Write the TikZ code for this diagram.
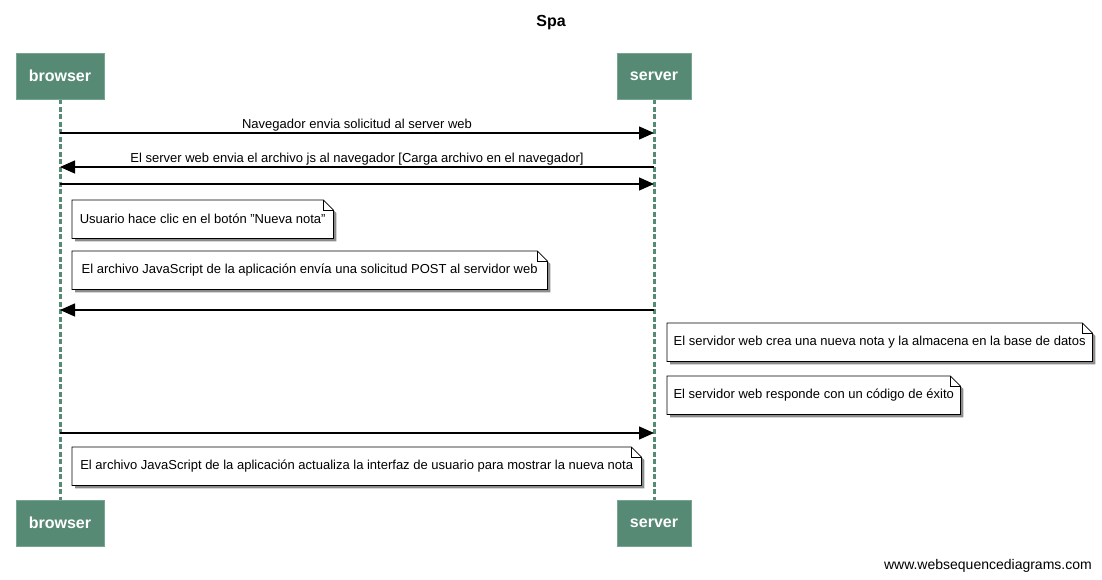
\documentclass[tikz,border=0pt]{standalone}
\usepackage{fontspec}
\setmainfont{Liberation Sans}
\usetikzlibrary{arrows.meta,backgrounds}
\definecolor{actorgreen}{RGB}{87,138,117}
\definecolor{actorborder}{RGB}{120,165,145}
\tikzset{
  actor/.style={draw=actorborder, line width=0.8pt, fill=actorgreen, text=white,
    font=\bfseries\fontsize{16}{18}\selectfont, minimum height=46pt, inner sep=0pt},
  lifeline/.style={draw=actorgreen, line width=3pt, dash pattern=on 5pt off 2.5pt},
  msg/.style={draw=black, line width=1.4pt, -{Triangle[length=15pt,width=13pt]}},
  msglabel/.style={font=\fontsize{13}{15}\selectfont, above=0pt, inner sep=1pt, midway},
  notetext/.style={font=\fontsize{13}{15}\selectfont, anchor=north west, inner sep=0pt,
    minimum height=38pt},
  notebg/.style={fill=white, draw=black, line width=0.8pt},
  noteshadow/.style={fill=black!45},
}
\begin{document}
\begin{tikzpicture}[x=1pt,y=-1pt]
\useasboundingbox (0,0) rectangle (1102,580);
% title
\node[font=\bfseries\fontsize{16}{18}\selectfont] (title) at (551,23) {Spa};
% actors
\node[actor, minimum width=88pt] (bt) at (60,76) {browser};
\node[actor, minimum width=74pt] (st) at (654,76) {server};
\node[actor, minimum width=88pt] (bb) at (60,523) {browser};
\node[actor, minimum width=74pt] (sb) at (654,523) {server};
% lifelines
\begin{scope}[on background layer]
\draw[lifeline] (bt.south) -- (bb.north);
\draw[lifeline] (st.south) -- (sb.north);
\end{scope}
% message coordinates
\coordinate (b1) at (60,133); \coordinate (s1) at (654,133);
\coordinate (b2) at (60,167); \coordinate (s2) at (654,167);
\coordinate (b3) at (60,184); \coordinate (s3) at (654,184);
\coordinate (b4) at (60,310); \coordinate (s4) at (654,310);
\coordinate (b5) at (60,433); \coordinate (s5) at (654,433);
\draw[msg] (b1) -- (s1) node[msglabel] (l1) {Navegador envia solicitud al server web};
\draw[msg] (s2) -- (b2) node[msglabel] (l2) {El server web envia el archivo js al navegador [Carga archivo en el navegador]};
\draw[msg] (b3) -- (s3);
\draw[msg] (s4) -- (b4);
\draw[msg] (b5) -- (s5);
% notes
\node[notetext, minimum width=261pt] (n1) at (72,200) {Usuario hace clic en el botón "Nueva nota"};
\node[notetext, minimum width=475pt] (n2) at (72,251) {El archivo JavaScript de la aplicación envía una solicitud POST al servidor web};
\node[notetext, minimum width=425pt] (n3) at (667,323) {El servidor web crea una nueva nota y la almacena en la base de datos};
\node[notetext, minimum width=293pt] (n4) at (667,376) {El servidor web responde con un código de éxito};
\node[notetext, minimum width=569pt] (n5) at (72,447) {El archivo JavaScript de la aplicación actualiza la interfaz de usuario para mostrar la nueva nota};
\begin{scope}[on background layer]
\foreach \n in {n1,n2,n3,n4,n5}{
  \fill[noteshadow] ([shift={(3pt,-3pt)}]\n.south west) -- ([shift={(3pt,-3pt)}]\n.north west) -- ([shift={(-7pt,-3pt)}]\n.north east) -- ([shift={(3pt,-13pt)}]\n.north east) -- ([shift={(3pt,-3pt)}]\n.south east) -- cycle;
  \path[notebg] (\n.south west) -- (\n.north west) -- ([xshift=-10pt]\n.north east) -- ([yshift=-10pt]\n.north east) -- (\n.south east) -- cycle;
  \draw[line width=0.8pt] ([xshift=-10pt]\n.north east) -- ([xshift=-10pt,yshift=-10pt]\n.north east) -- ([yshift=-10pt]\n.north east);
}
\end{scope}
% footer
\node[font=\fontsize{14}{16}\selectfont, anchor=east, inner sep=0pt] (footer) at (1092,566) {www.websequencediagrams.com};
\end{tikzpicture}
\end{document}
